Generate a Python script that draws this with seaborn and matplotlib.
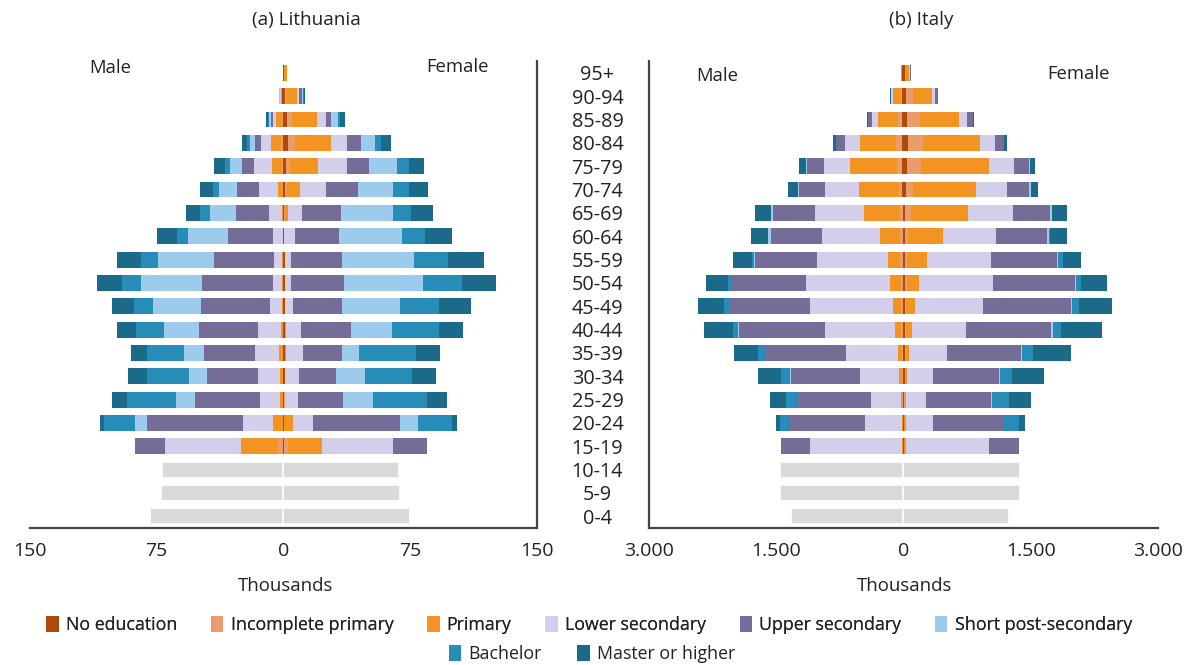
import numpy as np
import pandas as pd
import matplotlib
matplotlib.use('Agg')
import matplotlib.pyplot as plt
from matplotlib.patches import Patch
import seaborn as sns

# Grupos de edad (de arriba a abajo) y niveles educativos (del centro hacia fuera)
ages = ['95+', '90-94', '85-89', '80-84', '75-79', '70-74', '65-69', '60-64', '55-59',
        '50-54', '45-49', '40-44', '35-39', '30-34', '25-29', '20-24', '15-19',
        '10-14', '5-9', '0-4']
ages_kids = ['10-14', '5-9', '0-4']
levels = ['No education', 'Incomplete primary', 'Primary', 'Lower secondary',
          'Upper secondary', 'Short post-secondary', 'Bachelor', 'Master or higher']
colors = ['#AE4A0A', '#E89D6B', '#F39322', '#D3CEE9', '#766C98', '#9DCBEE', '#288CB9', '#1B6A8A']
grey = '#D9DADA'

# Lituania, miles de personas (filas = 95+ ... 15-19, columnas = niveles)
lt_male = [
    [0.3, 0.0, 0.1, 0.0, 0.0, 0.0, 0.0, 0.0],
    [0.6, 0.4, 0.6, 0.3, 0.3, 0.2, 0.2, 0.3],
    [0.4, 0.2, 3.9, 1.8, 1.2, 1.0, 0.6, 1.4],
    [0.4, 1.2, 5.9, 5.9, 3.5, 2.9, 1.8, 2.9],
    [0.4, 0.6, 5.9, 10.6, 7.1, 7.1, 2.9, 6.5],
    [0.4, 0.1, 2.9, 11.2, 13.0, 10.6, 3.5, 7.7],
    [0.4, 0.0, 0.6, 7.7, 19.5, 15.3, 5.9, 8.3],
    [0.3, 0.0, 0.2, 5.9, 26.5, 23.6, 6.5, 11.8],
    [0.4, 0.0, 0.6, 4.7, 35.4, 33.0, 10.0, 14.1],
    [0.4, 0.0, 0.6, 5.3, 41.9, 36.0, 11.2, 14.7],
    [0.4, 0.0, 0.6, 7.1, 40.7, 28.3, 11.2, 13.0],
    [0.4, 0.0, 1.2, 13.6, 34.8, 20.6, 16.5, 11.2],
    [0.4, 0.0, 2.4, 14.1, 30.1, 11.8, 21.8, 9.4],
    [0.4, 0.0, 1.8, 13.0, 30.1, 10.6, 24.8, 11.2],
    [0.3, 0.0, 1.8, 11.8, 38.3, 11.2, 28.9, 9.4],
    [0.3, 0.0, 5.9, 17.7, 56.6, 7.1, 18.3, 2.4],
    [0.3, 2.9, 21.8, 44.8, 18.3, 0.0, 0.0, 0.0],
]
lt_female = [
    [0.4, 0.1, 1.5, 0.0, 0.0, 0.0, 0.0, 0.0],
    [0.8, 1.0, 6.1, 1.2, 2.0, 0.6, 0.3, 0.7],
    [2.0, 2.9, 14.7, 5.3, 3.5, 4.1, 1.2, 2.9],
    [2.6, 4.1, 21.2, 10.0, 7.7, 8.3, 4.1, 5.9],
    [1.4, 2.4, 16.5, 17.1, 13.0, 16.5, 7.1, 9.4],
    [0.8, 1.2, 7.7, 15.3, 18.9, 21.2, 9.4, 11.2],
    [0.6, 0.2, 1.6, 8.8, 23.0, 30.7, 10.6, 13.0],
    [0.3, 0.0, 0.3, 6.1, 25.9, 37.7, 13.6, 15.9],
    [0.8, 0.0, 0.0, 3.5, 30.1, 43.0, 20.0, 21.2],
    [0.8, 0.0, 0.0, 3.5, 31.8, 46.6, 23.0, 20.0],
    [0.8, 0.0, 0.0, 4.7, 28.9, 34.8, 23.0, 18.9],
    [0.8, 0.0, 0.6, 8.8, 29.5, 24.8, 27.7, 14.1],
    [0.8, 0.0, 0.6, 10.0, 23.0, 10.6, 33.6, 14.1],
    [0.8, 0.0, 0.0, 8.3, 21.8, 17.1, 28.3, 14.1],
    [0.3, 0.5, 0.0, 7.7, 26.5, 17.7, 32.4, 11.8],
    [0.3, 0.0, 5.5, 11.8, 51.3, 10.6, 20.0, 2.9],
    [0.3, 2.6, 20.0, 41.9, 20.0, 0.0, 0.0, 0.0],
]
lt_kids_male = [71.7, 72.3, 78.8]
lt_kids_female = [68.6, 69.2, 75.1]

# Italia, miles de personas
it_male = [
    [12, 4, 12, 0, 0, 0, 0, 0],
    [12, 16, 91, 28, 4, 0, 0, 8],
    [20, 47, 237, 71, 43, 0, 0, 12],
    [20, 71, 426, 166, 107, 0, 0, 36],
    [20, 59, 556, 296, 201, 12, 0, 83],
    [20, 36, 473, 391, 308, 12, 0, 118],
    [8, 36, 426, 568, 497, 20, 0, 193],
    [8, 36, 237, 675, 604, 36, 0, 201],
    [8, 36, 142, 828, 734, 12, 24, 225],
    [8, 24, 130, 982, 876, 0, 47, 260],
    [8, 24, 95, 970, 959, 0, 59, 308],
    [8, 24, 71, 817, 1018, 12, 59, 343],
    [8, 12, 47, 615, 935, 0, 95, 284],
    [8, 8, 32, 462, 817, 12, 107, 272],
    [8, 4, 20, 355, 852, 0, 142, 189],
    [4, 4, 12, 438, 876, 0, 118, 47],
    [4, 0, 16, 1077, 343, 0, 0, 0],
]
it_female = [
    [16, 4, 48, 4, 12, 0, 0, 0],
    [28, 83, 225, 36, 36, 0, 0, 0],
    [43, 150, 462, 95, 75, 0, 0, 8],
    [51, 178, 675, 178, 107, 0, 0, 36],
    [39, 166, 805, 296, 178, 12, 0, 59],
    [28, 83, 746, 367, 260, 20, 0, 87],
    [16, 71, 675, 533, 438, 20, 0, 170],
    [16, 36, 414, 627, 604, 16, 20, 201],
    [16, 24, 237, 757, 781, 12, 59, 213],
    [16, 24, 142, 876, 970, 12, 59, 296],
    [16, 12, 107, 805, 1030, 12, 83, 391],
    [16, 12, 71, 639, 1006, 24, 95, 473],
    [16, 12, 36, 450, 876, 12, 130, 438],
    [16, 8, 16, 308, 781, 12, 142, 379],
    [12, 12, 4, 237, 769, 12, 201, 260],
    [4, 4, 20, 320, 840, 0, 178, 71],
    [4, 0, 24, 982, 355, 0, 0, 0],
]
it_kids_male = [1452, 1452, 1322]
it_kids_female = [1377, 1377, 1247]

sns.set_style('white')
plt.rcParams['font.family'] = ['Open Sans', 'DejaVu Sans']
plt.rcParams['font.size'] = 12
txt_color = '#222222'


def dibujar_lado(ax, filas, kids, signo):
    # barras apiladas: se dibuja el acumulado, de fuera hacia dentro
    arr = np.array(filas, dtype=float)
    cum = arr.cumsum(axis=1)
    edades = ages[:len(filas)]
    for k in range(len(levels) - 1, -1, -1):
        df = pd.DataFrame({'edad': edades, 'valor': signo * cum[:, k]})
        sns.barplot(data=df, x='valor', y='edad', order=ages, orient='h',
                    color=colors[k], saturation=1, width=0.68, linewidth=0,
                    errorbar=None, ax=ax)
    df_k = pd.DataFrame({'edad': ages_kids, 'valor': signo * np.array(kids)})
    sns.barplot(data=df_k, x='valor', y='edad', order=ages, orient='h',
                color=grey, saturation=1, width=0.68, linewidth=1.2,
                edgecolor='white', errorbar=None, ax=ax)


fig = plt.figure(figsize=(11.84, 6.65), dpi=100)
ax_lt = fig.add_axes([0.0253, 0.206, 0.4282, 0.702])
ax_it = fig.add_axes([0.548, 0.206, 0.430, 0.702])

dibujar_lado(ax_lt, lt_male, lt_kids_male, -1)
dibujar_lado(ax_lt, lt_female, lt_kids_female, 1)
dibujar_lado(ax_it, it_male, it_kids_male, -1)
dibujar_lado(ax_it, it_female, it_kids_female, 1)

# Ejes de Lituania
ax_lt.set_xlim(-150, 150)
ax_lt.set_xticks([-150, -75, 0, 75, 150])
ax_lt.set_xticklabels(['150', '75', '0', '75', '150'])
ax_lt.set_yticks([])
for s in ['top', 'left']:
    ax_lt.spines[s].set_visible(False)

# Ejes de Italia
ax_it.set_xlim(-3000, 3000)
ax_it.set_xticks([-3000, -1500, 0, 1500, 3000])
ax_it.set_xticklabels(['3.000', '1.500', '0', '1.500', '3.000'])
ax_it.set_yticks(range(len(ages)))
ax_it.set_yticklabels(ages)
for lab in ax_it.get_yticklabels():
    lab.set_horizontalalignment('center')
ax_it.tick_params(axis='y', length=0, pad=37)
for s in ['top', 'right']:
    ax_it.spines[s].set_visible(False)

for ax in [ax_lt, ax_it]:
    ax.set_ylim(len(ages) - 0.5, -0.5)
    ax.set_xlabel('')
    ax.set_ylabel('')
    ax.tick_params(axis='x', length=0, pad=10, labelsize=14, colors=txt_color)
    ax.tick_params(axis='y', labelsize=14.3, colors=txt_color)
    for s in ax.spines.values():
        s.set_color('#444444')
        s.set_linewidth(1.6)

# Textos
fig.text(0.2584, 0.970, '(a) Lithuania', ha='center', va='center', fontsize=13.6, color=txt_color)
fig.text(0.778, 0.970, '(b) Italy', ha='center', va='center', fontsize=13.6, color=txt_color)
fig.text(0.0929, 0.898, 'Male', ha='center', va='center', fontsize=13.3, color=txt_color)
fig.text(0.386, 0.899, 'Female', ha='center', va='center', fontsize=13.3, color=txt_color)
fig.text(0.6056, 0.886, 'Male', ha='center', va='center', fontsize=13.3, color=txt_color)
fig.text(0.9105, 0.889, 'Female', ha='center', va='center', fontsize=13.3, color=txt_color)
fig.text(0.2416, 0.119, 'Thousands', ha='center', va='center', fontsize=13.4, color=txt_color)
fig.text(0.764, 0.119, 'Thousands', ha='center', va='center', fontsize=13.4, color=txt_color)

# Leyenda en dos filas
handles = [Patch(facecolor=c, edgecolor='none', label=l) for c, l in zip(colors, levels)]
leg1 = fig.legend(handles=handles[:6], loc='center', bbox_to_anchor=(0.4975, 0.060), ncol=6,
                  frameon=False, fontsize=12.8, handlelength=0.7, handleheight=1.0,
                  handletextpad=0.4, columnspacing=1.9, labelcolor=txt_color)
fig.legend(handles=handles[6:], loc='center', bbox_to_anchor=(0.5, 0.016), ncol=2,
           frameon=False, fontsize=12.8, handlelength=0.7, handleheight=1.0,
           handletextpad=0.4, columnspacing=2.0, labelcolor=txt_color)
fig.add_artist(leg1)

fig.savefig('out.png', dpi=100)
